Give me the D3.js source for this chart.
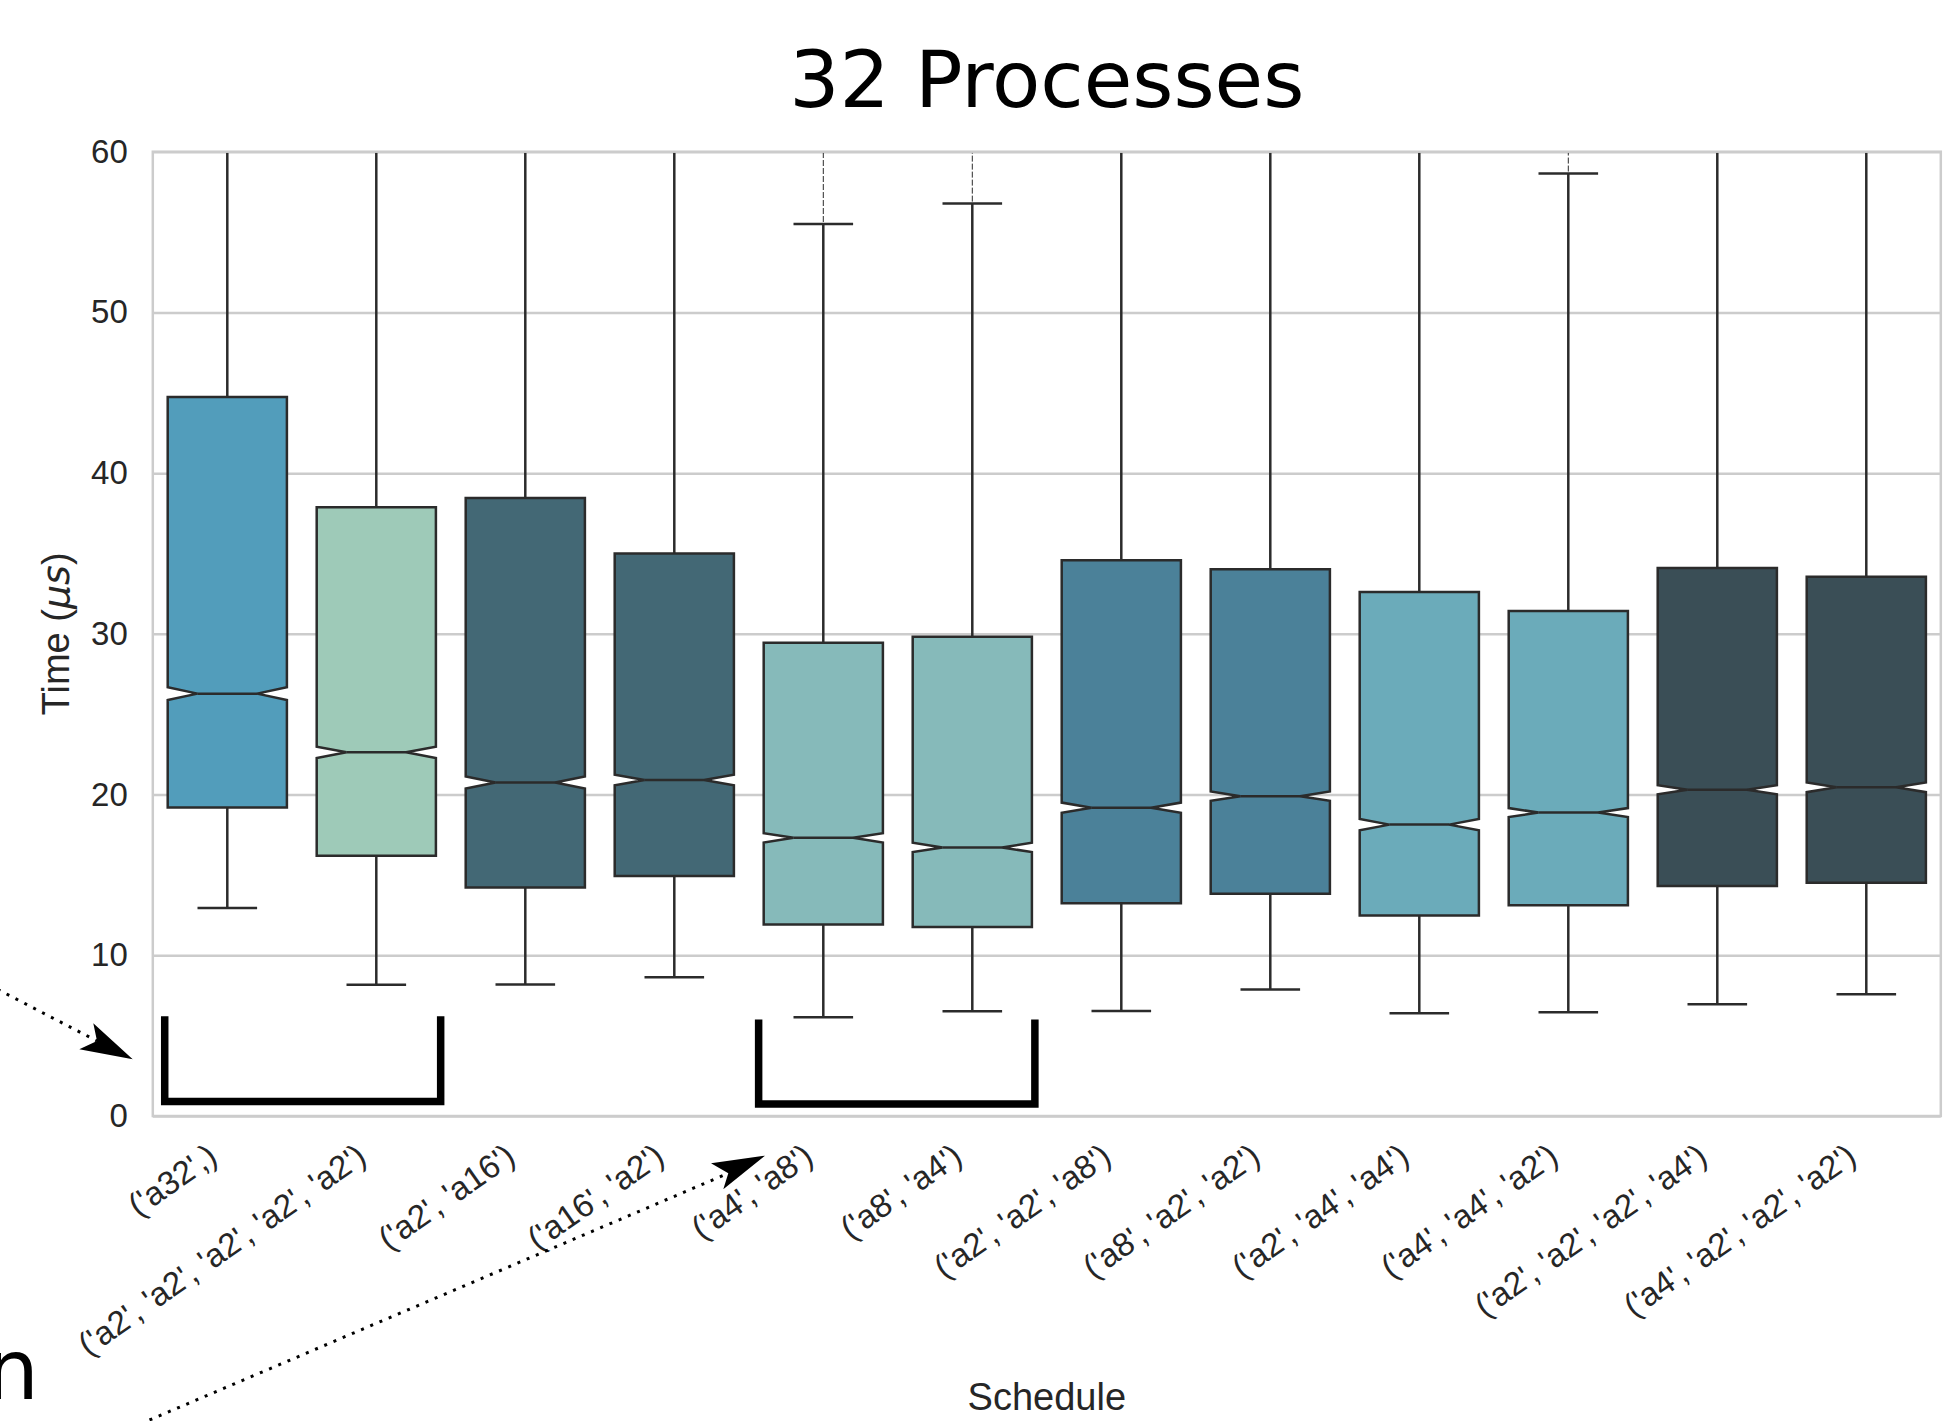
<!DOCTYPE html>
<html>
<head>
<meta charset="utf-8">
<script src="https://cdn.jsdelivr.net/npm/d3@7"></script>
<style>
  body { margin: 0; background: #fff; }
  svg { display: block; }
</style>
</head>
<body>
<div id="chart-container"></div>
<script>
const width = 1954;
const height = 1421;
const margin = { top: 151.7, right: 13.2, bottom: 305, left: 152.8 };
const plotBottom = 1116;

// schedules on the x axis
const categories = [
  "('a32',)",
  "('a2', 'a2', 'a2', 'a2', 'a2')",
  "('a2', 'a16')",
  "('a16', 'a2')",
  "('a4', 'a8')",
  "('a8', 'a4')",
  "('a2', 'a2', 'a8')",
  "('a8', 'a2', 'a2')",
  "('a2', 'a4', 'a4')",
  "('a4', 'a4', 'a2')",
  "('a2', 'a2', 'a2', 'a4')",
  "('a4', 'a2', 'a2', 'a2')",
];

// box statistics (time in microseconds)
const q1 = [19.2, 16.19, 14.22, 14.93, 11.91, 11.76, 13.24, 13.83, 12.48, 13.11, 14.31, 14.51];
const medians = [26.28, 22.63, 20.75, 20.91, 17.31, 16.71, 19.18, 19.9, 18.13, 18.88, 20.3, 20.45];
const q3 = [44.73, 37.88, 38.46, 35.0, 29.45, 29.82, 34.58, 34.02, 32.61, 31.42, 34.1, 33.56];
const whiskerLow = [12.94, 8.16, 8.18, 8.64, 6.15, 6.52, 6.54, 7.87, 6.39, 6.45, 6.96, 7.57];
const whiskerHigh = [80, 80, 80, 80, 55.5, 56.77, 80, 80, 80, 58.64, 80, 80];
const notchHalf = [0.4, 0.35, 0.37, 0.33, 0.29, 0.29, 0.32, 0.29, 0.35, 0.28, 0.28, 0.3];
const flierTop = [null, null, null, null, 75, 75, null, null, null, 75, null, null];

const colors = [
  "#529dbb", "#9ecab8", "#436875", "#436875", "#86baba", "#86baba",
  "#4b8199", "#4b8199", "#6babba", "#6babba", "#3a4e56", "#3a4e56",
];

const yTicks = [0, 10, 20, 30, 40, 50, 60];

// bracket annotations: first/last category, offsets in bands, top/bottom in data units
const brackets = [
  { from: 0, to: 1, x0: 0.08, x1: 0.932, top: 6.2, bottom: 0.9 },
  { from: 4, to: 5, x0: 0.066, x1: 0.92, top: 6.0, bottom: 0.75 },
];

const tickFont = "'Liberation Sans', Arial, sans-serif";
const boxEdge = "#2b2b2b";

const svg = d3
  .select("#chart-container")
  .append("svg")
  .attr("width", width)
  .attr("height", height)
  .attr("viewBox", `0 0 ${width} ${height}`);

const x = d3
  .scaleBand()
  .domain(categories)
  .range([margin.left, width - margin.right])
  .padding(0);

const y = d3
  .scaleLinear()
  .domain([0, 60])
  .range([plotBottom, margin.top]);

svg
  .append("defs")
  .append("clipPath")
  .attr("id", "plot-clip")
  .append("rect")
  .attr("x", margin.left)
  .attr("y", margin.top)
  .attr("width", width - margin.right - margin.left)
  .attr("height", plotBottom - margin.top);

// grid
svg
  .append("g")
  .attr("transform", `translate(${margin.left},0)`)
  .call(
    d3.axisLeft(y)
      .tickValues(yTicks)
      .tickSize(-(width - margin.right - margin.left))
      .tickFormat("")
  )
  .call((g) => g.select(".domain").remove())
  .call((g) => g.selectAll("line").attr("stroke", "#cccccc").attr("stroke-width", 2.5));

const w = x.bandwidth() * 0.8;
const idx = d3.range(categories.length);
const cx = (i) => x(categories[i]) + x.bandwidth() / 2;
const plot = svg.append("g").attr("clip-path", "url(#plot-clip)");

// whiskers
plot
  .selectAll("line.whisker-hi")
  .data(idx)
  .join("line")
  .attr("x1", cx)
  .attr("x2", cx)
  .attr("y1", (i) => y(q3[i]))
  .attr("y2", (i) => y(whiskerHigh[i]))
  .attr("stroke", boxEdge)
  .attr("stroke-width", 2.5);

plot
  .selectAll("line.whisker-lo")
  .data(idx)
  .join("line")
  .attr("x1", cx)
  .attr("x2", cx)
  .attr("y1", (i) => y(q1[i]))
  .attr("y2", (i) => y(whiskerLow[i]))
  .attr("stroke", boxEdge)
  .attr("stroke-width", 2.5);

// outliers packed above the cap look like a thin dashed line
plot
  .selectAll("line.flier")
  .data(idx.filter((i) => flierTop[i] != null))
  .join("line")
  .attr("x1", cx)
  .attr("x2", cx)
  .attr("y1", (i) => y(whiskerHigh[i]) - 2)
  .attr("y2", (i) => y(flierTop[i]))
  .attr("stroke", "#2b2b2b")
  .attr("stroke-width", 1)
  .attr("stroke-dasharray", "6,2");

// caps
const caps = idx.flatMap((i) => [
  { i, v: whiskerLow[i] },
  { i, v: whiskerHigh[i] },
]);
plot
  .selectAll("line.cap")
  .data(caps)
  .join("line")
  .attr("x1", (d) => cx(d.i) - w / 4)
  .attr("x2", (d) => cx(d.i) + w / 4)
  .attr("y1", (d) => y(d.v))
  .attr("y2", (d) => y(d.v))
  .attr("stroke", boxEdge)
  .attr("stroke-width", 2.5);

// notched boxes
function boxPath(i) {
  const c = cx(i);
  const l = c - w / 2, r = c + w / 2;
  const nl = c - w / 4, nr = c + w / 4;
  const n = notchHalf[i];
  const p = d3.path();
  p.moveTo(l, y(q1[i]));
  p.lineTo(r, y(q1[i]));
  p.lineTo(r, y(medians[i] - n));
  p.lineTo(nr, y(medians[i]));
  p.lineTo(r, y(medians[i] + n));
  p.lineTo(r, y(q3[i]));
  p.lineTo(l, y(q3[i]));
  p.lineTo(l, y(medians[i] + n));
  p.lineTo(nl, y(medians[i]));
  p.lineTo(l, y(medians[i] - n));
  p.closePath();
  return p.toString();
}

plot
  .selectAll("path.box")
  .data(idx)
  .join("path")
  .attr("d", boxPath)
  .attr("fill", (i) => colors[i])
  .attr("stroke", boxEdge)
  .attr("stroke-width", 2.5)
  .attr("stroke-linejoin", "miter");

plot
  .selectAll("line.median")
  .data(idx)
  .join("line")
  .attr("x1", (i) => cx(i) - w / 4)
  .attr("x2", (i) => cx(i) + w / 4)
  .attr("y1", (i) => y(medians[i]))
  .attr("y2", (i) => y(medians[i]))
  .attr("stroke", boxEdge)
  .attr("stroke-width", 2.5);

// frame
svg
  .append("rect")
  .attr("x", margin.left)
  .attr("y", margin.top)
  .attr("width", width - margin.right - margin.left)
  .attr("height", plotBottom - margin.top)
  .attr("fill", "none")
  .attr("stroke", "#cccccc")
  .attr("stroke-width", 2.5);

// y axis labels
svg
  .append("g")
  .attr("transform", `translate(${margin.left},0)`)
  .call(d3.axisLeft(y).tickValues(yTicks).tickSize(0).tickPadding(25))
  .call((g) => g.select(".domain").remove())
  .call((g) =>
    g.selectAll("text")
      .style("font-family", tickFont)
      .style("font-size", "33px")
      .attr("fill", "#262626")
  );

// x axis labels, rotated
svg
  .append("g")
  .selectAll("text")
  .data(categories)
  .join("text")
  .attr("transform", (d) => `translate(${x(d) + x.bandwidth() / 2 - 8},${plotBottom + 45}) rotate(-35)`)
  .attr("text-anchor", "end")
  .style("font-family", tickFont)
  .style("font-size", "33px")
  .attr("fill", "#262626")
  .text((d) => d);

// axis titles
const yLabel = svg
  .append("text")
  .attr("transform", `translate(69,${(margin.top + plotBottom) / 2}) rotate(-90)`)
  .attr("text-anchor", "middle")
  .style("font-family", tickFont)
  .style("font-size", "38px")
  .attr("fill", "#262626");
yLabel.append("tspan").text("Time (");
yLabel.append("tspan").style("font-family", "'DejaVu Sans', sans-serif").style("font-style", "italic").text("μs");
yLabel.append("tspan").text(")");

svg
  .append("text")
  .attr("x", (margin.left + width - margin.right) / 2)
  .attr("y", 1410)
  .attr("text-anchor", "middle")
  .style("font-family", tickFont)
  .style("font-size", "38px")
  .attr("fill", "#262626")
  .text("Schedule");

svg
  .append("text")
  .attr("x", (margin.left + width - margin.right) / 2)
  .attr("y", 107)
  .attr("text-anchor", "middle")
  .style("font-family", "'DejaVu Sans', sans-serif")
  .style("font-size", "79px")
  .attr("fill", "#000")
  .text("32 Processes");

// brackets
svg
  .append("g")
  .selectAll("path")
  .data(brackets)
  .join("path")
  .attr("d", (b) => {
    const x0 = x(categories[b.from]) + b.x0 * x.bandwidth();
    const x1 = x(categories[b.to]) + b.x1 * x.bandwidth();
    return `M${x0},${y(b.top)}V${y(b.bottom)}H${x1}V${y(b.top)}`;
  })
  .attr("fill", "none")
  .attr("stroke", "#000")
  .attr("stroke-width", 7.5)
  .attr("stroke-linejoin", "miter");

// dotted arrows coming from outside the figure
const arrows = [
  { line: [[-20, 980.2], [97, 1041]], head: [[132.7, 1059.3], [93.3, 1023.3], [97, 1041], [79.3, 1049.3]] },
  { line: [[149.5, 1420], [728.3, 1173.3]], head: [[765, 1155.7], [711, 1163.3], [728.3, 1173.3], [723.3, 1189.3]] },
];
const ann = svg.append("g");
arrows.forEach((a) => {
  ann.append("path")
    .attr("d", d3.line()(a.line))
    .attr("stroke", "#000")
    .attr("stroke-width", 3)
    .attr("stroke-dasharray", "3,7")
    .attr("fill", "none");
  ann.append("path")
    .attr("d", d3.line()(a.head) + "Z")
    .attr("fill", "#000");
});

ann.append("text")
  .attr("x", 39)
  .attr("y", 1399)
  .attr("text-anchor", "end")
  .style("font-family", "'DejaVu Sans', sans-serif")
  .style("font-size", "84px")
  .attr("fill", "#000")
  .text("n");
</script>
</body>
</html>
